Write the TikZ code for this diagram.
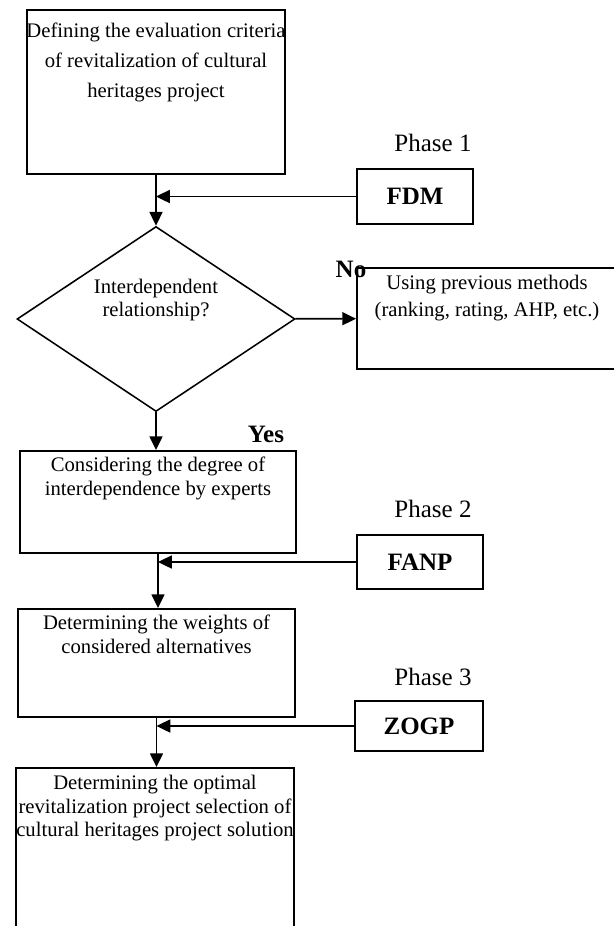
\documentclass[tikz,border=0pt]{standalone}
\usepackage{fontspec}
\setmainfont{Liberation Serif}
\usetikzlibrary{arrows.meta}
\usetikzlibrary{positioning}
\usetikzlibrary{shapes.geometric}
\newcommand*{\px}{0.58pt}
\newcommand*{\boxfont}{\fontsize{12}{13.6}\selectfont}
\newcommand*{\tagfont}{\fontsize{14.5}{17}\selectfont}
\tikzstyle{stepbox}=[draw, line width=1.1pt, inner sep=0pt]
\tikzstyle{boxtext}=[inner sep=0pt, align=center, font=\boxfont]
\tikzstyle{method}=[draw, line width=1.2pt, inner sep=0pt, font=\tagfont\bfseries]
\tikzstyle{phase}=[inner sep=0pt, anchor=base, font=\tagfont]
\tikzstyle{flow}=[line width=1.1pt, -{Triangle[length=8pt,width=7.5pt]}]

\begin{document}
\begin{tikzpicture}[x=\px, y=-\px]
    \useasboundingbox (0,0) rectangle (614,926);
    \clip (0,0) rectangle (614,926);
    % steps of the procedure
    \node [stepbox, minimum width=258*\px, minimum height=164*\px] (crit) at (156,92) {};
    \node [boxtext, font=\fontsize{12}{17.4}\selectfont, below=7.9pt of crit.north] (critT)
        {Defining the evaluation criteria\\of revitalization of cultural\\heritages project};
    \node [draw, diamond, line width=0.9pt, inner sep=0pt, minimum width=278*\px, minimum height=185*\px] (dec) at (156,319) {};
    \node [boxtext, font=\fontsize{12}{13.3}\selectfont, below=30.7pt of dec.north] (decT)
        {Interdependent\\relationship?};
    \node [stepbox, minimum width=260*\px, minimum height=101*\px] (use) at (487,318.5) {};
    \node [boxtext, font=\fontsize{12}{15.5}\selectfont, below=4.6pt of use.north] (useT)
        {Using previous methods\\(ranking, rating, AHP, etc.)};
    \node [stepbox, minimum width=276*\px, minimum height=102*\px] (cons) at (158,502) {};
    \node [boxtext, below=4pt of cons.north] (consT)
        {Considering the degree of\\interdependence by experts};
    \node [stepbox, minimum width=277*\px, minimum height=108*\px] (wts) at (156.5,663) {};
    \node [boxtext, below=4pt of wts.north] (wtsT)
        {Determining the weights of\\considered alternatives};
    \node [stepbox, minimum width=278*\px, minimum height=200*\px] (opt) at (155,868) {};
    \node [boxtext, below=4.6pt of opt.north] (optT)
        {Determining the optimal\\revitalization project selection of\\cultural heritages project solution};
    % methods and phases
    \node [method, minimum width=116*\px, minimum height=55*\px] (fdm) at (415,196.5) {FDM};
    \node [method, minimum width=126*\px, minimum height=54*\px] (fanp) at (420,562) {FANP};
    \node [method, minimum width=128*\px, minimum height=50*\px] (zogp) at (419,726) {ZOGP};
    \node [phase] (ph1) at (433,151) {Phase 1};
    \node [phase] (ph2) at (433,517) {Phase 2};
    \node [phase] (ph3) at (433,685) {Phase 3};
    \node [phase, font=\tagfont\bfseries] (no) at (351,277) {No};
    \node [phase, font=\tagfont\bfseries] (yes) at (266,442) {Yes};
    % arrows
    \draw [flow] (crit) -- (dec);
    \draw [flow] (fdm) -- (fdm.west -| crit.south);
    \draw [flow] (dec) -- (use);
    \draw [flow] (dec.south) -- (dec.south |- cons.north);
    \draw [flow] (cons.south) -- (cons.south |- wts.north);
    \draw [flow] (fanp) -- (fanp.west -| cons.south);
    \draw [flow] (wts.south) -- (wts.south |- opt.north);
    \draw [flow] (zogp) -- (zogp.west -| wts.south);
\end{tikzpicture}
\end{document}
